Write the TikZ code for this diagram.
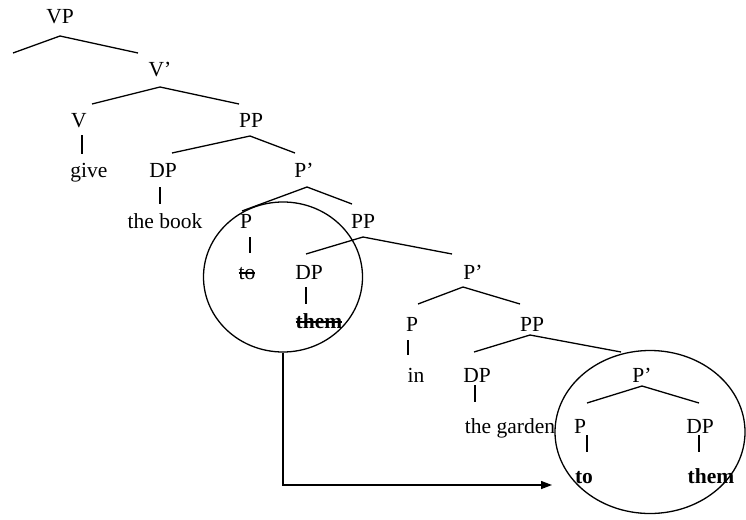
\documentclass[tikz,border=0pt]{standalone}
\usepackage{fontspec}
\setmainfont{Liberation Serif}
\usetikzlibrary{shapes.geometric,arrows.meta}
\newsavebox\strkbox
\newcommand\strk[1]{\sbox\strkbox{#1}\rlap{\usebox\strkbox}\rule[0.24em]{\wd\strkbox}{1.4pt}}
\begin{document}
\begin{tikzpicture}[x=1pt,y=-1pt,
  lab/.style={anchor=base, inner sep=0pt, font=\fontsize{21.5}{24}\selectfont},
  br/.style={line width=1.3pt},
  ring/.style={draw, ellipse, inner sep=0pt, line width=1.3pt}]
\useasboundingbox (0,0) rectangle (746,519);
% labels
\node[lab] (vp) at (60,24) {VP};
\node[lab] (vbar) at (160,77) {V’};
\node[lab] (v) at (79,127) {V};
\node[lab] (pp1) at (251,127) {PP};
\node[lab] (give) at (89,177) {give};
\node[lab] (dp1) at (163,177) {DP};
\node[lab] (pbar1) at (304,177) {P’};
\node[lab] (book) at (165,228) {the book};
\node[lab] (p2) at (246,228) {P};
\node[lab] (pp2) at (363,228) {PP};
\node[lab] (to1) at (247,279) {\strk{to}};
\node[lab] (dp2) at (309,279) {DP};
\node[lab] (pbar2) at (473,279) {P’};
\node[lab] (them1) at (319,328) {\strk{\textbf{them}}};
\node[lab] (p3) at (412,331) {P};
\node[lab] (pp3) at (532,331) {PP};
\node[lab] (in) at (416,382) {in};
\node[lab] (dp3) at (477,382) {DP};
\node[lab] (pbar3) at (642,382) {P’};
\node[lab] (garden) at (510,433) {the garden};
\node[lab] (p4) at (580,433) {P};
\node[lab] (dp4) at (700,433) {DP};
\node[lab] (to2) at (584,483) {\textbf{to}};
\node[lab] (them2) at (711,483) {\textbf{them}};
% branch coordinates
\coordinate (a1) at (60,36);   \coordinate (a1l) at (13,53);   \coordinate (a1r) at (138,53);
\coordinate (a2) at (160,87);  \coordinate (a2l) at (92,104);  \coordinate (a2r) at (239,104);
\coordinate (a3) at (250,136); \coordinate (a3l) at (172,153); \coordinate (a3r) at (295,153);
\coordinate (a4) at (307,187); \coordinate (a4l) at (242,211); \coordinate (a4r) at (352,204);
\coordinate (a5) at (363,237); \coordinate (a5l) at (306,254); \coordinate (a5r) at (452,254);
\coordinate (a6) at (463,287); \coordinate (a6l) at (418,304); \coordinate (a6r) at (520,304);
\coordinate (a7) at (530,335); \coordinate (a7l) at (474,352); \coordinate (a7r) at (621,352);
\coordinate (a8) at (642,386); \coordinate (a8l) at (587,403); \coordinate (a8r) at (699,403);
\foreach \n in {1,...,8}{\draw[br] (a\n l) -- (a\n) -- (a\n r);}
% unary lines
\coordinate (u1a) at (82,135);  \coordinate (u1b) at (82,154);
\coordinate (u2a) at (160,187); \coordinate (u2b) at (160,204);
\coordinate (u3a) at (250,237); \coordinate (u3b) at (250,253);
\coordinate (u4a) at (306,287); \coordinate (u4b) at (306,304);
\coordinate (u5a) at (408,340); \coordinate (u5b) at (408,355);
\coordinate (u6a) at (475,385); \coordinate (u6b) at (475,402);
\coordinate (u7a) at (587,435); \coordinate (u7b) at (587,452);
\coordinate (u8a) at (699,435); \coordinate (u8b) at (699,452);
\foreach \n in {1,...,8}{\draw[br] (u\n a) -- (u\n b);}
% circles
\node[ring, minimum width=159pt, minimum height=150pt] (c1) at (283,277) {};
\node[ring, minimum width=190pt, minimum height=163pt] (c2) at (650,432) {};
\coordinate (tip) at (552,485);
\draw[br, -{Triangle[length=11pt,width=8pt]}] (c1.south) |- (tip);
\end{tikzpicture}
\end{document}
